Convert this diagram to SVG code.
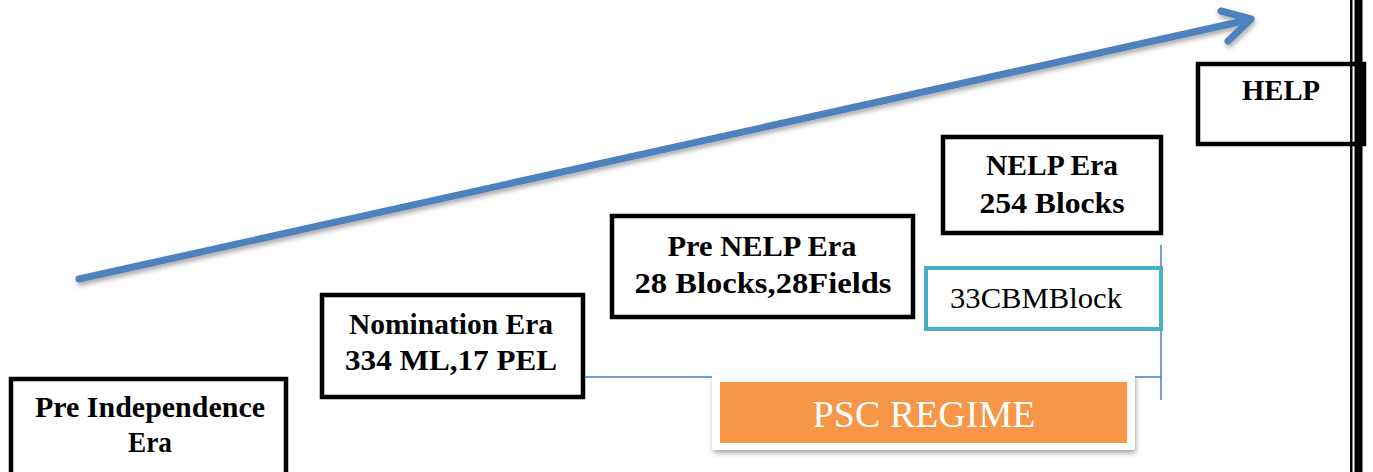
<svg xmlns="http://www.w3.org/2000/svg" width="1373" height="472" viewBox="0 0 1373 472">
<defs>
<style>
.box{fill:#fff;stroke:#000;stroke-width:4.5}
.bt{font-family:"Liberation Serif","Times New Roman",serif;font-weight:bold;font-size:29px;fill:#000;text-anchor:middle}
.rt{font-family:"Liberation Serif","Times New Roman",serif;font-size:30px;fill:#000;text-anchor:middle}
.conn{stroke:#4a7ebb;stroke-width:1.5;fill:none}
</style>
<filter id="sh" x="-10%" y="-20%" width="120%" height="150%">
<feDropShadow dx="1" dy="3" stdDeviation="2.5" flood-color="#000" flood-opacity="0.35"/>
</filter>
</defs>
<rect width="1373" height="472" fill="#fff"/>
<g id="connectors">
<g filter="url(#sh)" stroke="#4f81bd" stroke-width="7" fill="none" stroke-linecap="round" stroke-linejoin="round">
<line x1="79" y1="279" x2="1248" y2="20"/>
<polyline points="1221,11 1251,19 1228,41"/>
</g>
<polyline class="conn" points="583,377 1161,377"/>
<line class="conn" x1="1161" y1="245" x2="1161" y2="400"/>
</g>
<g id="pre-independence">
<rect class="box" x="11" y="379" width="275" height="100"/>
<text class="bt" x="150" y="417" textLength="230" lengthAdjust="spacingAndGlyphs">Pre Independence</text>
<text class="bt" x="150" y="452" textLength="44" lengthAdjust="spacingAndGlyphs">Era</text>
</g>
<g id="nomination">
<rect class="box" x="322" y="295" width="261" height="102"/>
<text class="bt" x="451" y="334" textLength="204" lengthAdjust="spacingAndGlyphs">Nomination Era</text>
<text class="bt" x="451" y="370" textLength="212" lengthAdjust="spacingAndGlyphs">334 ML,17 PEL</text>
</g>
<g id="pre-nelp">
<rect class="box" x="612" y="216" width="301" height="101"/>
<text class="bt" x="762" y="256" textLength="189" lengthAdjust="spacingAndGlyphs">Pre NELP Era</text>
<text class="bt" x="763" y="293" textLength="257" lengthAdjust="spacingAndGlyphs">28 Blocks,28Fields</text>
</g>
<g id="nelp">
<rect class="box" x="943" y="137" width="218" height="96"/>
<text class="bt" x="1052" y="175" textLength="132" lengthAdjust="spacingAndGlyphs">NELP Era</text>
<text class="bt" x="1052" y="213" textLength="145" lengthAdjust="spacingAndGlyphs">254 Blocks</text>
</g>
<g id="cbm">
<rect x="926" y="268" width="235" height="61" fill="#fff" stroke="#4bacc6" stroke-width="4"/>
<text class="rt" x="1036" y="308" textLength="172" lengthAdjust="spacingAndGlyphs">33CBMBlock</text>
</g>
<g id="help">
<rect class="box" x="1198" y="64" width="166" height="80"/>
<text class="bt" x="1281" y="100" textLength="78" lengthAdjust="spacingAndGlyphs">HELP</text>
</g>
<g id="psc">
<rect x="712" y="374" width="423" height="76" rx="3" fill="#fff" filter="url(#sh)"/>
<rect x="720" y="382" width="407" height="61" fill="#f79646"/>
<text x="924" y="427" font-family="'Liberation Serif','Times New Roman',serif" font-size="38" fill="#fff" text-anchor="middle">PSC REGIME</text>
</g>
<g id="right-border">
<rect x="1350" y="0" width="2.5" height="472" fill="#000"/>
<rect x="1354.5" y="0" width="8" height="472" fill="#000"/>
</g>
</svg>
